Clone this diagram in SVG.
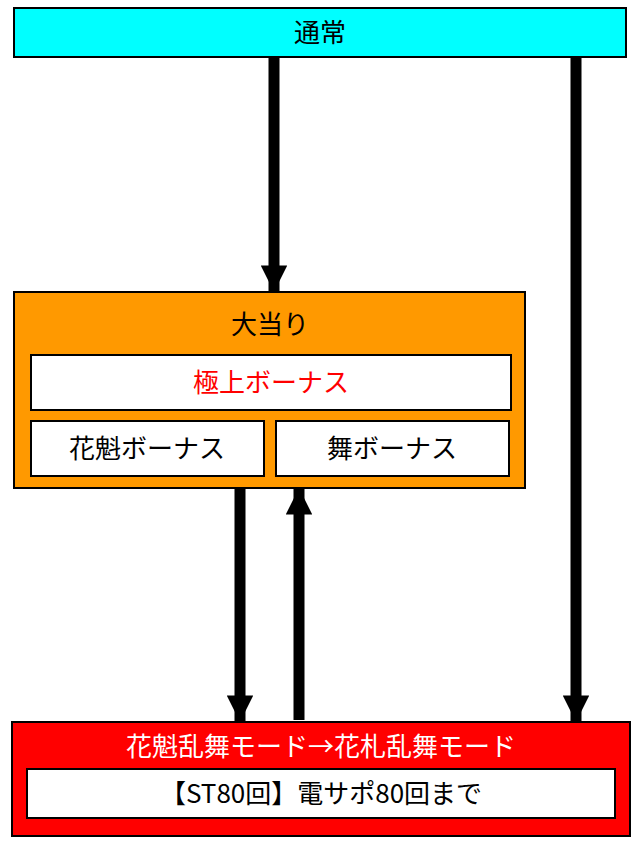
<svg xmlns="http://www.w3.org/2000/svg" width="640" height="846" viewBox="0 0 640 846">
<style>
.b{stroke:#000;stroke-width:2}
.t{font-family:"Noto Sans CJK JP","Noto Sans",sans-serif;font-size:26px;text-anchor:middle}
.c{stroke:#000;stroke-width:11;fill:none}
</style>
<defs>
<marker id="a" viewBox="0 0 10 10" refX="10" refY="5" markerWidth="2.6" markerHeight="2.4" markerUnits="strokeWidth" orient="auto"><path d="M0,0L10,5L0,10z" fill="#000"/></marker>
</defs>
<g id="n1"><rect class="b" x="14" y="8" width="612" height="49" fill="#00FFFF"/><text class="t" x="320" y="42">通常</text></g>
<g id="n2"><rect class="b" x="14" y="292" width="511" height="196" fill="#FF9900"/><text class="t" x="270" y="334">大当り</text></g>
<g id="n3"><rect class="b" x="31" y="355" width="480" height="55" fill="#fff"/><text class="t" x="271" y="392" fill="#FF0000">極上ボーナス</text></g>
<g id="n4"><rect class="b" x="31" y="421" width="233" height="55" fill="#fff"/><text class="t" x="147" y="458">花魁ボーナス</text></g>
<g id="n5"><rect class="b" x="276" y="421" width="233" height="55" fill="#fff"/><text class="t" x="392" y="458">舞ボーナス</text></g>
<g id="n6"><rect class="b" x="12" y="722" width="618" height="114" fill="#FF0000"/><text class="t" x="321" y="756" fill="#fff">花魁乱舞モード→花札乱舞モード</text></g>
<g id="n7"><rect class="b" x="27" y="769" width="588" height="49" fill="#fff"/><text class="t" x="321" y="803">【ST80回】電サポ80回まで</text></g>
<g id="edges">
<line class="c" x1="274" y1="57" x2="274" y2="292" marker-end="url(#a)"/>
<line class="c" x1="576" y1="57" x2="576" y2="722" marker-end="url(#a)"/>
<line class="c" x1="240" y1="488" x2="240" y2="722" marker-end="url(#a)"/>
<line class="c" x1="299" y1="720" x2="299" y2="488" marker-end="url(#a)"/>
</g>
</svg>
